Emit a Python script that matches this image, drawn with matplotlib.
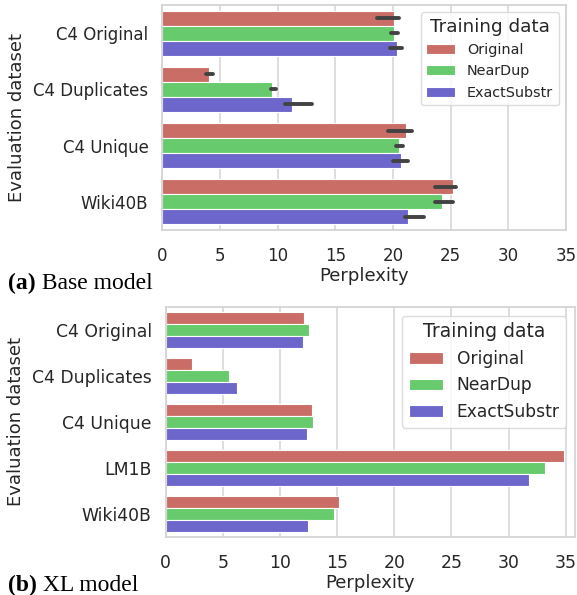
import matplotlib
matplotlib.use('Agg')
import matplotlib.pyplot as plt
import numpy as np

plt.rcParams['font.family'] = ['DejaVu Sans']

# training data variants (hue)
series = ['Original', 'NearDup', 'ExactSubstr']
colors = ['#cb6d67', '#67cb6d', '#6d67cb']

# (a) Base model
base_datasets = ['C4 Original', 'C4 Duplicates', 'C4 Unique', 'Wiki40B']
base_ppl = {
    'Original':    [20.06, 4.08, 21.13, 25.2],
    'NearDup':     [20.06, 9.5, 20.55, 24.25],
    'ExactSubstr': [20.35, 11.24, 20.66, 21.33],
}
base_ci_low = {
    'Original':    [18.6, 3.76, 19.6, 23.64],
    'NearDup':     [19.85, 9.39, 20.3, 23.6],
    'ExactSubstr': [19.7, 10.6, 20.0, 21.07],
}
base_ci_high = {
    'Original':    [20.5, 4.42, 21.65, 25.5],
    'NearDup':     [20.4, 9.86, 20.9, 25.2],
    'ExactSubstr': [20.8, 12.95, 21.3, 22.7],
}

# (b) XL model
xl_datasets = ['C4 Original', 'C4 Duplicates', 'C4 Unique', 'LM1B', 'Wiki40B']
xl_ppl = {
    'Original':    [12.1, 2.34, 12.8, 34.8, 15.17],
    'NearDup':     [12.54, 5.57, 12.9, 33.2, 14.76],
    'ExactSubstr': [12.05, 6.24, 12.34, 31.8, 12.46],
}

W, H = 577, 595
fig = plt.figure(figsize=(W / 100, H / 100), dpi=100)

grid_c = '#d4d4d4'
text_c = '#262626'


def draw(ax, cats, vals, lo=None, hi=None, xmax=35, tick_fs=12, leg_fs=10.4, title_fs=13.2):
    n = len(series)
    bw = 0.8 / n
    y = np.arange(len(cats))
    for i, s in enumerate(series):
        yy = y + (i - (n - 1) / 2) * bw
        ax.barh(yy, vals[s], height=bw, color=colors[i], edgecolor='white',
                linewidth=0.8, label=s, zorder=2)
        if lo is not None:
            # confidence interval lines
            for k in range(len(cats)):
                ax.plot([lo[s][k], hi[s][k]], [yy[k], yy[k]], color='#424242',
                        lw=2.8, solid_capstyle='round', zorder=3)
    ax.set_ylim(len(cats) - 0.5, -0.5)
    ax.set_xlim(0, xmax)
    ax.set_xticks(np.arange(0, 36, 5))
    ax.set_yticks(y)
    ax.set_yticklabels(cats)
    ax.grid(axis='x', color=grid_c, lw=1.1, zorder=0)
    ax.grid(axis='y', visible=False)
    ax.set_axisbelow(True)
    for sp in ax.spines.values():
        sp.set_color(grid_c)
        sp.set_linewidth(1.3)
    ax.tick_params(length=0, labelsize=tick_fs, labelcolor=text_c)
    ax.tick_params(axis='x', pad=12)
    ax.tick_params(axis='y', pad=10)
    ax.set_xlabel('Perplexity', fontsize=13, color=text_c, labelpad=2)
    ax.set_ylabel('Evaluation dataset', fontsize=13, color=text_c, labelpad=5)
    leg = ax.legend(title='Training data', loc='upper right', fontsize=leg_fs,
                    title_fontsize=title_fs, frameon=True, fancybox=True)
    leg.get_frame().set_edgecolor(grid_c)
    leg.get_title().set_color(text_c)
    for t in leg.get_texts():
        t.set_color(text_c)


ax1 = fig.add_axes([162.3 / W, 1 - 230 / H, 403.7 / W, 225 / H])
draw(ax1, base_datasets, base_ppl, base_ci_low, base_ci_high, xmax=35,
     tick_fs=12, leg_fs=10.4, title_fs=13.2)

ax2 = fig.add_axes([165.6 / W, 1 - 537 / H, 409.4 / W, 230 / H])
draw(ax2, xl_datasets, xl_ppl, xmax=35.8, tick_fs=12.4, leg_fs=12.3, title_fs=13.5)

# sub-figure captions: bold label + regular text
serif = ['Liberation Serif', 'DejaVu Serif']
for label, rest, ypix in [('(a)', ' Base model', 289), ('(b)', ' XL model', 591)]:
    t = fig.text(8 / W, 1 - ypix / H, label, fontsize=17, fontweight='bold',
                 family=serif, va='baseline', ha='left')
    ax1.annotate(rest, xy=(1, 0), xycoords=t, va='bottom', ha='left',
                 fontsize=17, family=serif, annotation_clip=False)

fig.savefig('out.png', dpi=100)
